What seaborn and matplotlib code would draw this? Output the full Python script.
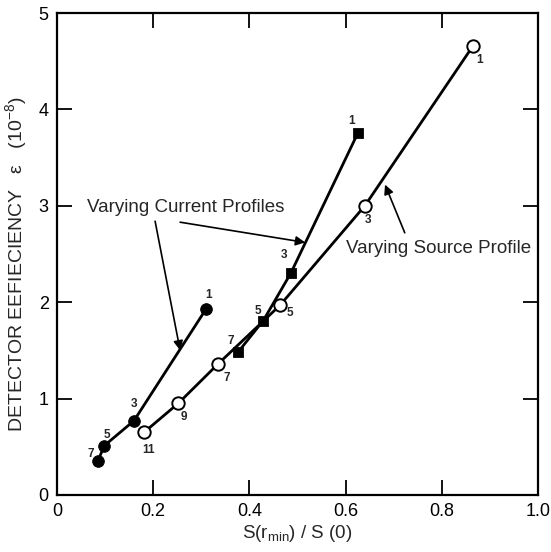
import matplotlib
matplotlib.use("Agg")
import matplotlib.pyplot as plt
import seaborn as sns
import pandas as pd

# Data
fc_x = [0.085, 0.098, 0.160, 0.310]
fc_y = [0.35, 0.51, 0.77, 1.93]
fc_lab = ["7", "5", "3", "1"]

sq_x = [0.376, 0.429, 0.486, 0.626]
sq_y = [1.48, 1.81, 2.30, 3.76]
sq_lab = ["7", "5", "3", "1"]

oc_x = [0.181, 0.252, 0.335, 0.464, 0.640, 0.865]
oc_y = [0.65, 0.95, 1.36, 1.97, 3.00, 4.66]
oc_lab = ["11", "9", "7", "5", "3", "1"]

x_ticks = [0, 0.2, 0.4, 0.6, 0.8, 1.0]
x_ticklabels = ["0", "0.2", "0.4", "0.6", "0.8", "1.0"]
y_ticks = [0, 1, 2, 3, 4, 5]

sns.set_style("ticks")
plt.rcParams["font.family"] = ["Liberation Sans", "DejaVu Sans"]
plt.rcParams["mathtext.default"] = "regular"

fig = plt.figure(figsize=(5.51, 5.52), dpi=100)
ax = fig.add_axes([0.1034, 0.1033, 0.8730, 0.8731])

lw = 2.0
for xs, ys in [(fc_x, fc_y), (sq_x, sq_y), (oc_x, oc_y)]:
    sns.lineplot(x=xs, y=ys, sort=False, color="black", lw=lw, ax=ax, zorder=2)

sns.scatterplot(x=fc_x, y=fc_y, marker="o", s=70, color="black",
                edgecolor="black", ax=ax, zorder=3)
sns.scatterplot(x=sq_x, y=sq_y, marker="s", s=55, color="black",
                edgecolor="black", ax=ax, zorder=3)
sns.scatterplot(x=oc_x, y=oc_y, marker="o", s=80, color="white",
                edgecolor="black", linewidth=1.4, ax=ax, zorder=3)

# point labels (offsets in points)
fc_off = [(-5, 5), (2, 8), (0, 12), (2, 10)]
sq_off = [(-5, 8), (-4, 7), (-5, 13), (-5, 8)]
oc_off = [(3, -13), (4, -10), (6, -10), (7, -6), (2, -10), (5, -10)]
for xs, ys, labs, offs in [(fc_x, fc_y, fc_lab, fc_off),
                           (sq_x, sq_y, sq_lab, sq_off),
                           (oc_x, oc_y, oc_lab, oc_off)]:
    for x, y, t, o in zip(xs, ys, labs, offs):
        ax.annotate(t, (x, y), xytext=o, textcoords="offset points",
                    ha="center", va="center", fontsize=8.5, fontweight="bold")

arrow = dict(arrowstyle="-|>", color="black", lw=1.2, mutation_scale=14,
             shrinkA=0, shrinkB=0)
ax.text(0.268, 2.98, "Varying Current Profiles", ha="center", va="center",
        fontsize=13.5)
ax.annotate("", xy=(0.256, 1.50), xytext=(0.204, 2.84), arrowprops=arrow)
ax.annotate("", xy=(0.516, 2.62), xytext=(0.256, 2.83), arrowprops=arrow)
ax.text(0.794, 2.56, "Varying Source Profile", ha="center", va="center",
        fontsize=13.5)
ax.annotate("", xy=(0.682, 3.22), xytext=(0.723, 2.72), arrowprops=arrow)

ax.set_xlim(0, 1.0)
ax.set_ylim(0, 5)
ax.set_xticks(x_ticks)
ax.set_xticklabels(x_ticklabels)
ax.set_yticks(y_ticks)
ax.tick_params(direction="in", length=11, width=1.3, top=True, right=True,
               labelsize=13, pad=6, colors="black")
for sp in ax.spines.values():
    sp.set_linewidth(1.6)
    sp.set_color("black")

ax.set_xlabel("S(r$_{min}$) / S (0)", fontsize=13.5, labelpad=2)
ax.set_ylabel("DETECTOR EEFIECIENCY   ε   (10$^{-8}$)", fontsize=14)
ax.yaxis.set_label_coords(-0.058, 0.479)

fig.savefig("out.png", dpi=100)
